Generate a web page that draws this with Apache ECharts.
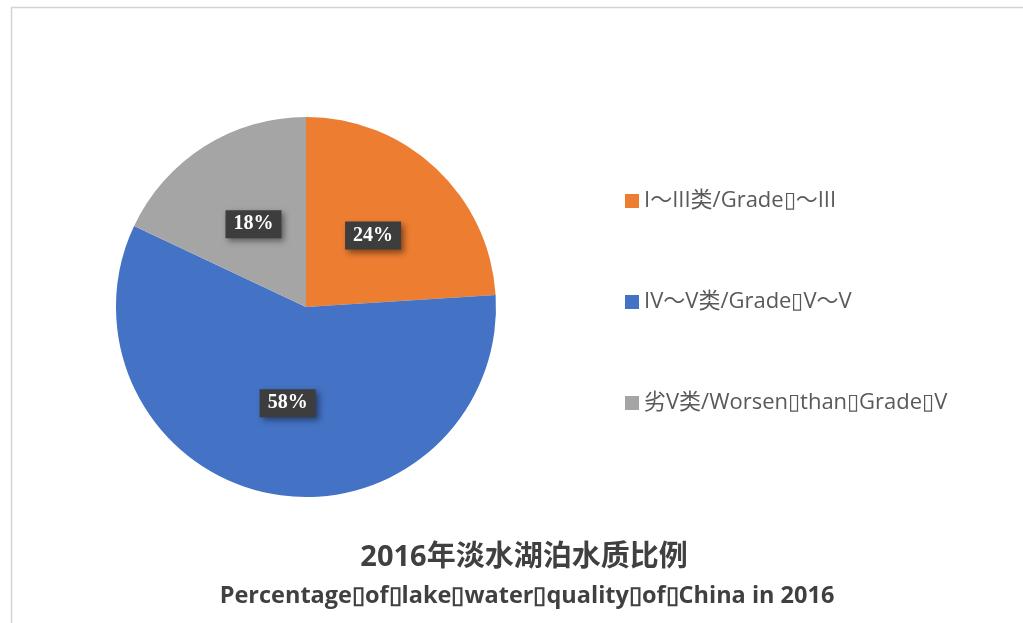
<!DOCTYPE html>
<html>
<head>
<meta charset="utf-8">
<script src="https://cdn.jsdelivr.net/npm/echarts@6/dist/echarts.min.js"></script>
<style>
    html, body { margin: 0; padding: 0; background: #fff; }
    #chart { width: 1023px; height: 623px; }
</style>
</head>
<body>
<div id="chart"></div>
<script>
    // categories and values
    var categories = ['I～III类/Grade\u25AF～III', 'IV～V类/Grade\u25AFV～V', '劣V类/Worsen\u25AFthan\u25AFGrade\u25AFV'];
    var values = [24, 58, 18];
    var colors = ['#ED7D31', '#4472C4', '#A5A5A5'];
    var titleCn = '2016年淡水湖泊水质比例';
    var titleEn = 'Percentage\u25AFof\u25AFlake\u25AFwater\u25AFquality\u25AFof\u25AFChina in 2016';

    var myChart = echarts.init(document.getElementById('chart'));

    var pieData = [];
    for (var i = 0; i < categories.length; i++) {
        pieData.push({ name: categories[i], value: values[i], itemStyle: { color: colors[i] } });
    }

    var option = {
        animation: false,
        graphic: [
            {
                type: 'rect',
                shape: { x: 11.5, y: 7.5, width: 1100, height: 700 },
                style: { fill: 'none', stroke: '#d4d4d4', lineWidth: 1.5 },
                silent: true
            }
        ],
        title: [
            {
                text: titleCn,
                left: 519,
                top: 538,
                textAlign: 'center',
                textStyle: {
                    fontFamily: '"Open Sans", "Noto Sans CJK SC", sans-serif',
                    fontWeight: 'bold',
                    fontSize: 29,
                    color: '#404040'
                }
            },
            {
                text: titleEn,
                left: 522,
                top: 580,
                textAlign: 'center',
                textStyle: {
                    fontFamily: '"Open Sans", "Noto Sans CJK SC", sans-serif',
                    fontWeight: 'bold',
                    fontSize: 23.5,
                    color: '#404040'
                }
            }
        ],
        legend: {
            orient: 'vertical',
            left: 620,
            top: 185,
            itemWidth: 14,
            itemHeight: 14,
            itemGap: 79,
            icon: 'rect',
            selectedMode: false,
            data: categories,
            textStyle: {
                fontFamily: '"Open Sans", "Noto Sans CJK SC", sans-serif',
                fontSize: 22,
                color: '#595959',
                padding: [0, 0, 0, 0]
            }
        },
        series: [
            {
                type: 'pie',
                center: [306, 307],
                radius: 190,
                startAngle: 90,
                clockwise: true,
                data: pieData,
                itemStyle: { borderWidth: 0 },
                emphasis: { disabled: true },
                label: {
                    show: true,
                    position: 'inside',
                    formatter: '{d}%',
                    fontFamily: '"Liberation Serif", serif',
                    fontWeight: 'bold',
                    fontSize: 20,
                    color: '#ffffff',
                    backgroundColor: '#3d3d3d',
                    padding: [5, 8, 3, 8],
                    shadowColor: 'rgba(0,0,0,0.45)',
                    shadowBlur: 6,
                    shadowOffsetX: 3,
                    shadowOffsetY: 3
                },
                labelLine: { show: false }
            }
        ]
    };

    myChart.setOption(option);
</script>
</body>
</html>
